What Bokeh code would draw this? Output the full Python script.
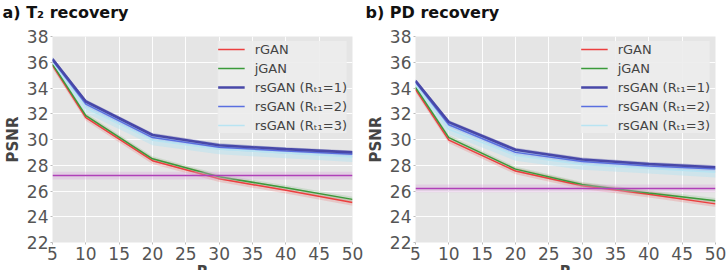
from bokeh.plotting import figure
from bokeh.layouts import row
from bokeh.models import (Range1d, FixedTicker, Legend, LegendItem, Span, BoxAnnotation,
                          GlobalInlineStyleSheet)
from bokeh.embed import file_html
from bokeh.resources import INLINE

# acceleration factors R
R_VALUES = [5, 10, 20, 30, 40, 50]

# PSNR (dB) for T2 recovery
T2_RGAN = [35.75, 31.7, 28.35, 26.95, 26.05, 25.1]
T2_JGAN = [35.85, 31.85, 28.5, 27.1, 26.25, 25.35]
T2_RSGAN1 = [36.25, 32.95, 30.35, 29.55, 29.25, 29.0]
T2_RSGAN2 = [36.15, 32.75, 30.15, 29.4, 29.1, 28.85]
T2_RSGAN3 = [36.0, 32.45, 29.95, 29.25, 28.95, 28.65]
T2_BASELINE = 27.2

# PSNR (dB) for PD recovery
PD_RGAN = [33.9, 29.95, 27.55, 26.4, 25.75, 25.0]
PD_JGAN = [34.05, 30.15, 27.7, 26.5, 25.85, 25.25]
PD_RSGAN1 = [34.55, 31.35, 29.2, 28.45, 28.1, 27.85]
PD_RSGAN2 = [34.45, 31.15, 29.0, 28.3, 27.95, 27.7]
PD_RSGAN3 = [34.25, 30.8, 28.75, 28.05, 27.75, 27.45]
PD_BASELINE = 26.2

# spread (std) around each curve
STD_RGAN = [0.25, 0.25, 0.25, 0.25, 0.25, 0.25]
STD_JGAN = [0.2, 0.2, 0.2, 0.2, 0.2, 0.2]
STD_RSGAN1 = [0.15, 0.15, 0.15, 0.15, 0.15, 0.15]
STD_RSGAN2 = [0.2, 0.2, 0.2, 0.2, 0.2, 0.2]
STD_RSGAN3 = [0.4, 0.4, 0.4, 0.4, 0.4, 0.4]
STD_BASELINE = 0.3

Y_TICKS = [22, 24, 26, 28, 30, 32, 34, 36, 38]
X_TICKS = [5, 10, 15, 20, 25, 30, 35, 40, 45, 50]

SERIES_NAMES = ["rGAN", "jGAN", "rsGAN (R\u209c\u2081=1)", "rsGAN (R\u209c\u2081=2)",
                "rsGAN (R\u209c\u2081=3)"]
COLORS = ["#ec3f3f", "#3a9a3a", "#4848a8", "#5a6fe0", "#b8e4f2"]
WIDTHS = [1.5, 1.5, 2.6, 1.5, 1.5]
BAND_ALPHA = [0.18, 0.15, 0.3, 0.3, 0.5]

BASE_COLOR = "#b040b8"
BG = "#e5e5e5"
TICK_COLOR = "#555555"


def band(values, std, sign):
    return [v + sign * s for v, s in zip(values, std)]


def panel(title, curves, baseline):
    p = figure(frame_width=300, frame_height=206, output_backend="svg",
               toolbar_location=None,
               x_range=Range1d(5, 50), y_range=Range1d(22, 38),
               min_border_left=52, min_border_right=11, min_border_top=34,
               min_border_bottom=30)
    p.background_fill_color = BG
    p.border_fill_color = "white"
    p.outline_line_color = None

    p.title.text = title
    p.title.text_font = "DejaVu Sans"
    p.title.text_font_size = "16px"
    p.title.text_font_style = "bold"
    p.title.text_color = "#111111"
    p.title.align = "left"
    p.title.vertical_align = "bottom"
    p.title.offset = -50
    p.title.standoff = 0
    p.title.padding = dict(left=0, right=0, top=0, bottom=15)

    for ax in (p.xaxis[0], p.yaxis[0]):
        ax.axis_line_color = None
        ax.major_tick_line_color = "#bbbbbb"
        ax.major_tick_out = 2
        ax.major_tick_in = 0
        ax.minor_tick_line_color = None
        ax.major_label_text_font = "DejaVu Sans"
        ax.major_label_text_font_size = "17px"
        ax.major_label_text_color = TICK_COLOR
        ax.major_label_standoff = 2
    p.xaxis.ticker = FixedTicker(ticks=X_TICKS)
    p.yaxis.ticker = FixedTicker(ticks=Y_TICKS)
    p.yaxis.axis_label = "PSNR"
    p.xaxis.axis_label = "R"
    for ax in (p.xaxis[0], p.yaxis[0]):
        ax.axis_label_text_font = "DejaVu Sans"
        ax.axis_label_text_font_size = "15px"
        ax.axis_label_text_font_style = "bold"
        ax.axis_label_text_color = "#444444"
    p.yaxis.axis_label_standoff = 2
    p.xaxis.axis_label_standoff = 0

    p.grid.grid_line_color = "white"
    p.grid.grid_line_width = 1
    p.grid.grid_line_alpha = 0.9

    # baseline with its spread
    p.add_layout(BoxAnnotation(bottom=baseline - STD_BASELINE, top=baseline + STD_BASELINE,
                               fill_color="#d9a6dc", fill_alpha=0.35, line_color=None))

    stds = [STD_RGAN, STD_JGAN, STD_RSGAN1, STD_RSGAN2, STD_RSGAN3]
    for vals, std, col, a in zip(curves, stds, COLORS, BAND_ALPHA):
        p.varea(x=R_VALUES, y1=band(vals, std, -1), y2=band(vals, std, 1),
                fill_color=col, fill_alpha=a)

    p.add_layout(Span(location=baseline, dimension="width", line_color=BASE_COLOR,
                      line_width=1.5))

    renderers = {}
    for i in [0, 1, 4, 3, 2]:
        renderers[i] = p.line(R_VALUES, curves[i], line_color=COLORS[i],
                              line_width=WIDTHS[i])

    legend = Legend(items=[LegendItem(label=SERIES_NAMES[i], renderers=[renderers[i]])
                           for i in range(5)],
                    location="top_right", margin=5, padding=7,
                    glyph_width=27, glyph_height=16, label_height=16, spacing=3,
                    label_standoff=10, label_text_font="DejaVu Sans",
                    label_text_font_size="13px", label_text_color="#444444",
                    background_fill_color="#ececec", background_fill_alpha=0.9,
                    border_line_color=None)
    p.add_layout(legend)
    return p


left = panel("a) T\u2082 recovery",
             [T2_RGAN, T2_JGAN, T2_RSGAN1, T2_RSGAN2, T2_RSGAN3], T2_BASELINE)
right = panel("b) PD recovery",
              [PD_RGAN, PD_JGAN, PD_RSGAN1, PD_RSGAN2, PD_RSGAN3], PD_BASELINE)

# the page is cut at the window's bottom edge, through the x-axis labels
page_css = GlobalInlineStyleSheet(css="html, body { overflow: hidden; margin: 0; }")
layout = row(left, right, stylesheets=[page_css])
open("out.html", "w").write(file_html(layout, INLINE))
